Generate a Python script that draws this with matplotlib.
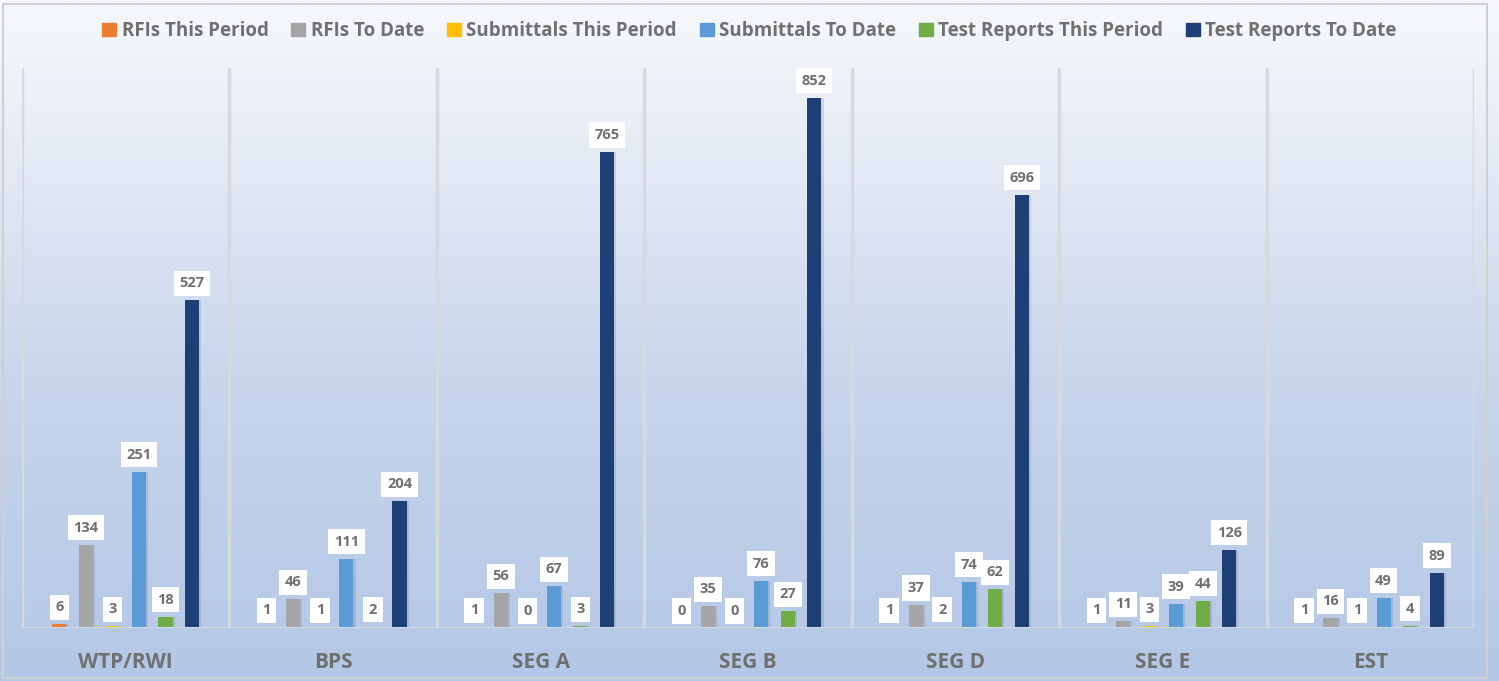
import numpy as np
import matplotlib
matplotlib.use("Agg")
import matplotlib.pyplot as plt
from matplotlib.patches import Rectangle
from matplotlib.colors import LinearSegmentedColormap

categories = ["WTP/RWI", "BPS", "SEG A", "SEG B", "SEG D", "SEG E", "EST"]
series_names = ["RFIs This Period", "RFIs To Date", "Submittals This Period",
                "Submittals To Date", "Test Reports This Period", "Test Reports To Date"]
rfis_this_period = [6, 1, 1, 0, 1, 1, 1]
rfis_to_date = [134, 46, 56, 35, 37, 11, 16]
submittals_this_period = [3, 1, 0, 0, 2, 3, 1]
submittals_to_date = [251, 111, 67, 76, 74, 39, 49]
test_reports_this_period = [18, 2, 3, 27, 62, 44, 4]
test_reports_to_date = [527, 204, 765, 852, 696, 126, 89]

series = [rfis_this_period, rfis_to_date, submittals_this_period,
          submittals_to_date, test_reports_this_period, test_reports_to_date]
colors = ["#ED7D31", "#A5A5A5", "#FFC000", "#5B9BD5", "#70AD47", "#1F4076"]

plt.rcParams['font.family'] = ['Open Sans', 'DejaVu Sans']

fig = plt.figure(figsize=(14.99, 6.81), dpi=100)

# background gradient
bg = fig.add_axes([0, 0, 1, 1], zorder=-10)
grad = np.linspace(0, 1, 256).reshape(-1, 1)
cmap = LinearSegmentedColormap.from_list("bg", [(0.0, "#f6f8fb"), (0.12, "#eef2f8"),
                                                (0.55, "#c9d6ec"), (1.0, "#b3c7e6")])
bg.imshow(grad, aspect="auto", cmap=cmap, extent=[0, 1, 1, 0])
bg.set_xlim(0, 1); bg.set_ylim(1, 0)
bg.axis("off")
bg.add_patch(Rectangle((0.002, 0.004), 0.99, 0.99, fill=False, edgecolor="#d0d0d0",
                       linewidth=1.5, transform=bg.transAxes))

ax = fig.add_axes([22 / 1499, 1 - 628 / 681, (1474 - 22) / 1499, (628 - 68) / 681])
ax.patch.set_alpha(0)
ax.set_ylim(0, 900)
n = len(categories)
ax.set_xlim(-0.5, n - 0.5)

bw = 0.068
step = 0.128
offsets = (np.arange(6) - 2.5) * step
x = np.arange(n)
for i, (vals, c) in enumerate(zip(series, colors)):
    xs = x + offsets[i]
    # soft shadow
    ax.bar(xs + 0.010, vals, width=bw, color="#2a3b5a", alpha=0.14, zorder=0.5, linewidth=0)
    ax.bar(xs, vals, width=bw, color=c, zorder=3, linewidth=0)
    for xi, v in zip(xs, vals):
        ax.annotate(str(v), (xi, v), xytext=(0, 17), textcoords="offset pixels",
                    ha="center", va="center", fontsize=10.5, fontweight="bold", color="#707070",
                    bbox=dict(boxstyle="square,pad=0.38", fc="white", ec="none"), zorder=5)

for b in np.arange(n + 1) - 0.5:
    ax.axvline(b, color="#d6d9de", linewidth=2.5, zorder=1)
ax.axhline(0, color="#d6d9de", linewidth=2.2, zorder=4)

for s in ax.spines.values():
    s.set_visible(False)
ax.set_yticks([])
ax.set_xticks(x)
ax.set_xticklabels(categories, fontsize=15, fontweight="bold", color="#707070")
ax.tick_params(axis="x", length=0, pad=17)

handles = [Rectangle((0, 0), 1, 1, color=c) for c in colors]
fig.legend(handles, series_names, loc="center", bbox_to_anchor=(0.5, 1 - 31 / 681), ncol=6,
           frameon=False, labelcolor="#707070", handlelength=0.75, handleheight=0.75,
           handletextpad=0.3, columnspacing=1.2, prop=dict(weight="bold", size=13.5))

fig.savefig("out.png", dpi=100)
